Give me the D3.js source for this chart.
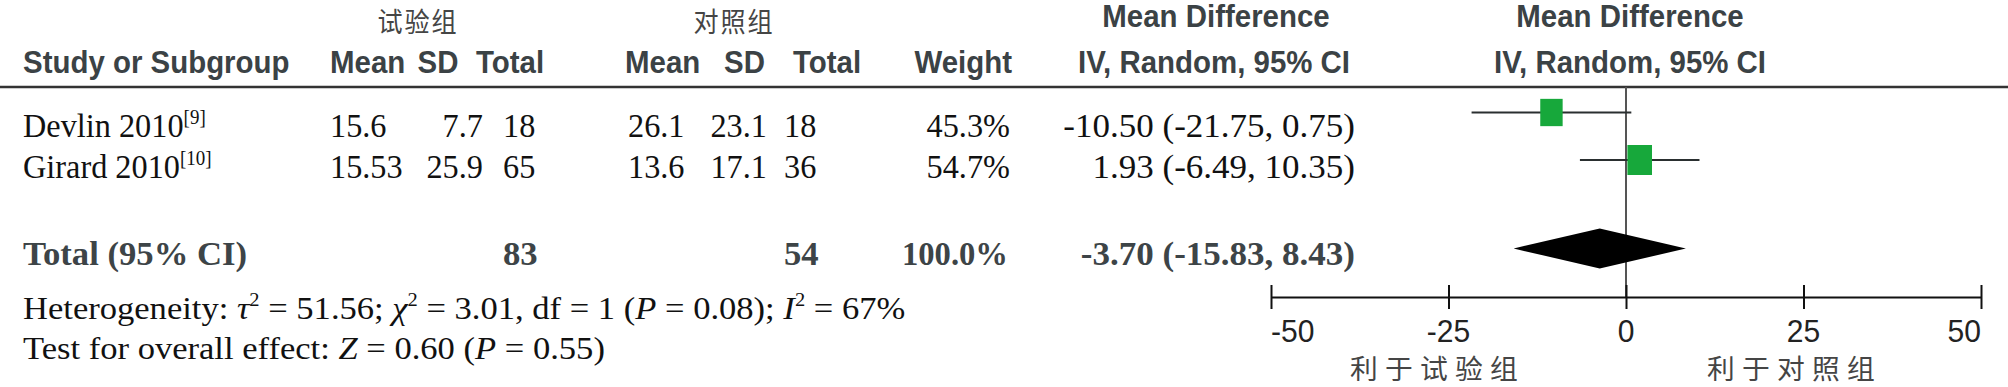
<!DOCTYPE html>
<html>
<head>
<meta charset="utf-8">
<script src="https://cdn.jsdelivr.net/npm/d3@7"></script>
<style>
body { margin: 0; background: #fff; }
svg { display: block; }
</style>
</head>
<body>
<script>
// Chart size
var width = 2008,
    height = 387;

// Study data
var studies = ["Devlin 2010", "Girard 2010"];
var refs = ["[9]", "[10]"];
var expMean = [15.6, 15.53];
var expSD = [7.7, 25.9];
var expTotal = [18, 65];
var ctrlMean = [26.1, 13.6];
var ctrlSD = [23.1, 17.1];
var ctrlTotal = [18, 36];
var weights = [45.3, 54.7];
var meanDiff = [-10.50, 1.93];
var ciLow = [-21.75, -6.49];
var ciHigh = [0.75, 10.35];

// Pooled result
var pooled = { expTotal: 83, ctrlTotal: 54, weight: 100.0, md: -3.70, low: -15.83, high: 8.43 };

// Axis ticks and labels
var ticks = [-50, -25, 0, 25, 50];
var groupNames = ["试验组", "对照组"];
var favourLabels = ["利于试验组", "利于对照组"];

var serif = "'Liberation Serif', 'Times New Roman', serif",
    sans = "'Liberation Sans', Arial, sans-serif",
    cjk = "'Noto Sans CJK SC', sans-serif";

var svg = d3.select("body")
    .append("svg")
    .attr("width", width)
    .attr("height", height);

// helper: text with horizontal squeeze (the figure uses condensed faces)
function label(g, x, y, str, opt) {
    var t = g.append("g")
        .attr("transform", "translate(" + x + "," + y + ") scale(" + (opt.sx || 1) + ",1)")
        .append("text")
        .attr("text-anchor", opt.anchor || "start")
        .attr("font-family", opt.family || serif)
        .attr("font-size", opt.size || 34)
        .attr("font-weight", opt.weight || "normal")
        .attr("fill", opt.fill || "#111")
        .text(str);
    if (opt.ls) t.attr("letter-spacing", opt.ls);
    return t;
}
function extend(a, b) { return Object.assign({}, a, b); }

// Columns of the table
var rowY = [137, 178],
    totalY = 265;
var hdr = { family: sans, weight: "bold", size: 31, sx: 0.95, fill: "#3b4245" };
var cols = [
    { head: "Mean", hx: 330, ha: "start", vx: 330, va: "start", vals: expMean, tot: null },
    { head: "SD", hx: 438, ha: "middle", vx: 483, va: "end", vals: expSD, tot: null },
    { head: "Total", hx: 510, ha: "middle", vx: 503, va: "start", vals: expTotal, tot: pooled.expTotal },
    { head: "Mean", hx: 625, ha: "start", vx: 628, va: "start", vals: ctrlMean, tot: null },
    { head: "SD", hx: 765, ha: "end", vx: 767, va: "end", vals: ctrlSD, tot: null },
    { head: "Total", hx: 827, ha: "middle", vx: 784, va: "start", vals: ctrlTotal, tot: pooled.ctrlTotal }
];

var table = svg.append("g");

// Group titles
var grp = { family: cjk, size: 27, sx: 0.93, anchor: "middle", fill: "#454545", ls: 2 };
label(table, 418, 31.5, groupNames[0], grp);
label(table, 734, 31.5, groupNames[1], grp);
label(table, 1216, 27, "Mean Difference", extend(hdr, { anchor: "middle" }));
label(table, 1630, 27, "Mean Difference", extend(hdr, { anchor: "middle" }));

// Column headers
label(table, 23, 73, "Study or Subgroup", hdr);
cols.forEach(function(c) {
    label(table, c.hx, 73, c.head, extend(hdr, { anchor: c.ha }));
});
label(table, 1012, 73, "Weight", extend(hdr, { anchor: "end" }));
label(table, 1214, 73, "IV, Random, 95% CI", extend(hdr, { anchor: "middle" }));
label(table, 1630, 73, "IV, Random, 95% CI", extend(hdr, { anchor: "middle" }));

// header rule
svg.append("line")
    .attr("x1", 0).attr("x2", width)
    .attr("y1", 87).attr("y2", 87)
    .attr("stroke", "#333").attr("stroke-width", 2.5);

// Study rows
var data = { sx: 0.95 };
var ciText = { sx: 1.03, anchor: "end" };
studies.forEach(function(s, i) {
    var t = label(table, 23, rowY[i], s, data);
    t.append("tspan")
        .attr("font-size", 20)
        .attr("dy", -13)
        .text(refs[i]);
    cols.forEach(function(c) {
        label(table, c.vx, rowY[i], String(c.vals[i]), extend(data, { anchor: c.va }));
    });
    label(table, 1010, rowY[i], weights[i].toFixed(1) + "%", extend(data, { anchor: "end" }));
    label(table, 1355, rowY[i], meanDiff[i].toFixed(2) + " (" + ciLow[i].toFixed(2) + ", " + ciHigh[i].toFixed(2) + ")", ciText);
});

// Total row
var bold = { weight: "bold", sx: 1.02, fill: "#3d4447" };
label(table, 23, totalY, "Total (95% CI)", bold);
cols.forEach(function(c) {
    if (c.tot != null) label(table, c.vx, totalY, String(c.tot), extend(bold, { anchor: c.va }));
});
label(table, 1008, totalY, pooled.weight.toFixed(1) + "%", extend(bold, { sx: 0.96, anchor: "end" }));
label(table, 1355, totalY, pooled.md.toFixed(2) + " (" + pooled.low.toFixed(2) + ", " + pooled.high.toFixed(2) + ")",
    extend(bold, { sx: 1.03, anchor: "end" }));

// Footer lines
function footer(y) {
    return svg.append("g")
        .attr("transform", "translate(23," + y + ") scale(1.08,1)")
        .append("text")
        .attr("font-family", serif)
        .attr("font-size", 32)
        .attr("fill", "#111");
}
function sup(t, s) {
    t.append("tspan").attr("font-size", 19).attr("dy", -13).text(s);
}
var het = footer(319);
het.append("tspan").text("Heterogeneity: ");
het.append("tspan").attr("font-style", "italic").text("τ");
sup(het, "2");
het.append("tspan").attr("dy", 13).text(" = 51.56; ");
het.append("tspan").attr("font-style", "italic").text("χ");
sup(het, "2");
het.append("tspan").attr("dy", 13).text(" = 3.01, df = 1 (");
het.append("tspan").attr("font-style", "italic").text("P");
het.append("tspan").text(" = 0.08); ");
het.append("tspan").attr("font-style", "italic").text("I");
sup(het, "2");
het.append("tspan").attr("dy", 13).text(" = 67%");

var eff = footer(359);
eff.append("tspan").text("Test for overall effect: ");
eff.append("tspan").attr("font-style", "italic").text("Z");
eff.append("tspan").text(" = 0.60 (");
eff.append("tspan").attr("font-style", "italic").text("P");
eff.append("tspan").text(" = 0.55)");

// Forest plot
var x = d3.scaleLinear()
    .domain([-50, 50])
    .range([1271, 1981]);

var markY = [112.5, 160],
    diamondY = 248.5,
    axisY = 297;

var boxH = d3.scaleSqrt().domain([0, 54.7]).range([0, 30]);

var plot = svg.append("g");

// line of no effect
plot.append("line")
    .attr("x1", x(0)).attr("x2", x(0))
    .attr("y1", 87).attr("y2", axisY)
    .attr("stroke", "#555").attr("stroke-width", 2);

// confidence intervals
plot.selectAll(".ci")
    .data(studies)
    .enter().append("line")
    .attr("x1", function(d, i) { return x(ciLow[i]); })
    .attr("x2", function(d, i) { return x(ciHigh[i]); })
    .attr("y1", function(d, i) { return markY[i]; })
    .attr("y2", function(d, i) { return markY[i]; })
    .attr("stroke", "#2a2f30").attr("stroke-width", 2);

// weight boxes
plot.selectAll(".box")
    .data(studies)
    .enter().append("rect")
    .attr("x", function(d, i) { return x(meanDiff[i]) - boxH(weights[i]) * 0.41; })
    .attr("y", function(d, i) { return markY[i] - boxH(weights[i]) / 2; })
    .attr("width", function(d, i) { return boxH(weights[i]) * 0.82; })
    .attr("height", function(d, i) { return boxH(weights[i]); })
    .attr("fill", "#17a83b");

// pooled diamond
plot.append("path")
    .attr("d", "M" + x(pooled.low) + "," + diamondY +
        "L" + x(pooled.md) + "," + (diamondY - 20) +
        "L" + x(pooled.high) + "," + diamondY +
        "L" + x(pooled.md) + "," + (diamondY + 20) + "Z")
    .attr("fill", "#000");

// axis
var axis = plot.append("g")
    .attr("transform", "translate(0," + axisY + ")")
    .call(d3.axisBottom(x)
        .tickValues(ticks)
        .tickSize(12)
        .tickSizeOuter(0)
        .tickFormat(function(d) { return String(d); }));
axis.select(".domain").attr("stroke", "#111").attr("stroke-width", 2);
axis.selectAll(".tick line").attr("y1", -12).attr("stroke", "#111").attr("stroke-width", 2);
axis.selectAll(".tick text").remove();
ticks.forEach(function(t, i) {
    var anchor = i === 0 ? "start" : (i === ticks.length - 1 ? "end" : "middle");
    label(plot, x(t), 342, String(t), { family: sans, size: 31, sx: 0.97, anchor: anchor, fill: "#222" });
});

// favours labels
var fav = { family: cjk, size: 27, sx: 1.03, anchor: "middle", fill: "#454545", ls: 7 };
label(plot, x(-25) - 11, 379, favourLabels[0], fav);
label(plot, x(25) - 9, 379, favourLabels[1], fav);
</script>
</body>
</html>
